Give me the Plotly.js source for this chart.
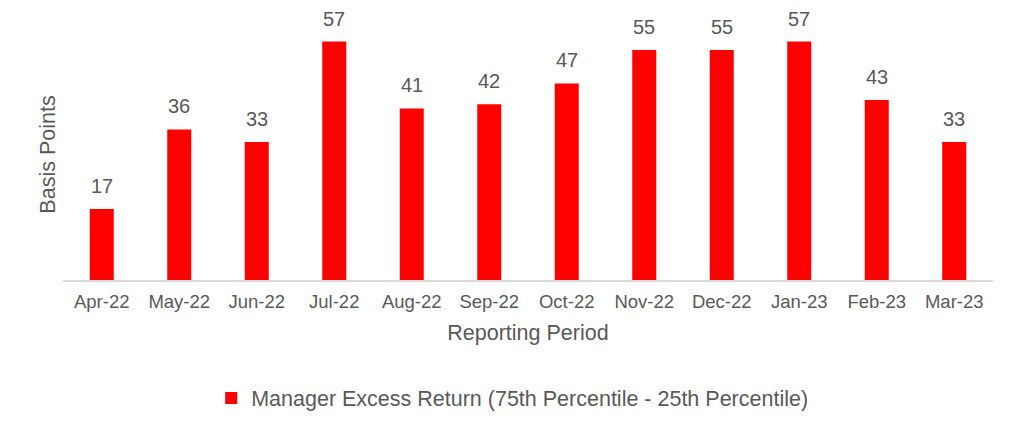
<!DOCTYPE html>
<html><head><meta charset="utf-8">
<script src="https://cdn.plot.ly/plotly-3.0.1.min.js"></script>
<style>html,body{margin:0;padding:0;background:#fff;}#chart{width:1024px;height:431px;}</style>
</head><body><div id="chart"></div>
<script>
const categories = ["Apr-22","May-22","Jun-22","Jul-22","Aug-22","Sep-22","Oct-22","Nov-22","Dec-22","Jan-23","Feb-23","Mar-23"];
const excessReturn = [17,36,33,57,41,42,47,55,55,57,43,33];
const seriesName = "Manager Excess Return (75th Percentile - 25th Percentile)";

const font = "Liberation Sans, Arial, sans-serif";
const grey = "#595959";

const annotations = categories.map((c,i)=>({
  x: c, y: excessReturn[i], text: String(excessReturn[i]),
  xref: "x", yref: "y", showarrow: false, yanchor: "bottom", yshift: 10,
  font: {family: font, size: 20, color: grey}
}));

Plotly.newPlot("chart", [{
  type: "bar", x: categories, y: excessReturn, name: seriesName,
  marker: {color: "#FF0000"}, showlegend: true
}], {
  width: 1024, height: 431,
  margin: {l: 63, r: 31, t: 29, b: 151},
  paper_bgcolor: "#fff", plot_bgcolor: "#fff",
  bargap: 0.69,
  font: {family: font, color: grey},
  xaxis: {
    type: "category", showgrid: false, zeroline: false,
    showline: true, linecolor: "#D9D9D9", linewidth: 1.5,
    ticks: "", ticklen: 0, ticklabelstandoff: 4, tickfont: {family: font, size: 18.5, color: grey},
    title: {text: "Reporting Period", font: {family: font, size: 21.5, color: grey}, standoff: 14}
  },
  yaxis: {
    range: [0, 60], showgrid: false, zeroline: false, showticklabels: false, ticks: "",
    title: {text: "Basis Points", font: {family: font, size: 21.5, color: grey}, standoff: 0}
  },
  showlegend: true,
  legend: {orientation: "h", x: 0.483, xanchor: "center", y: -0.47, yanchor: "middle",
    font: {family: font, size: 21.5, color: grey}},
  annotations: annotations
}, {displayModeBar: false, staticPlot: true});
</script></body></html>
